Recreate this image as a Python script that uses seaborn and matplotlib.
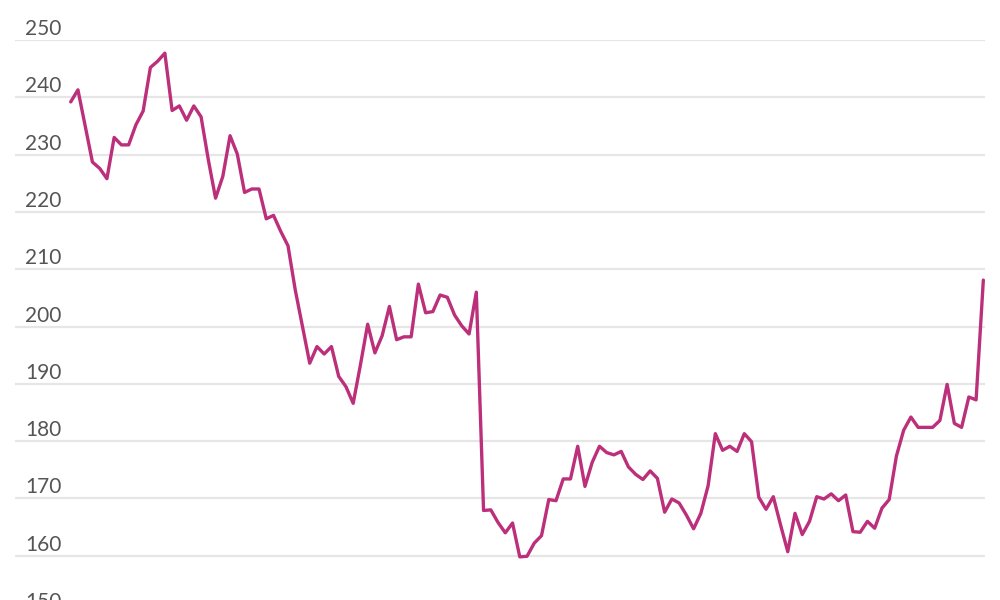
import matplotlib
matplotlib.use('Agg')
import matplotlib.pyplot as plt
import matplotlib.transforms as mtransforms
import pandas as pd
import seaborn as sns

# weekly values
values = [
    239.2, 241.3, 235.0, 228.7, 227.6, 225.8, 233.0, 231.7, 231.7, 235.2,
    237.6, 245.2, 246.3, 247.7, 237.7, 238.5, 236.0, 238.5, 236.6, 229.1,
    222.4, 226.2, 233.3, 230.1, 223.4, 224.0, 224.0, 218.8, 219.4, 216.6,
    214.1, 206.4, 200.0, 193.6, 196.5, 195.2, 196.5, 191.3, 189.5, 186.6,
    193.3, 200.4, 195.4, 198.4, 203.5, 197.7, 198.2, 198.2, 207.4, 202.4,
    202.6, 205.5, 205.1, 202.0, 200.1, 198.7, 206.0, 167.9, 168.0, 165.8,
    164.0, 165.7, 159.8, 159.9, 162.2, 163.5, 169.8, 169.6, 173.4, 173.4,
    179.1, 172.1, 176.3, 179.1, 178.0, 177.6, 178.2, 175.5, 174.2, 173.3,
    174.8, 173.5, 167.6, 169.9, 169.2, 167.1, 164.7, 167.4, 172.2, 181.3,
    178.4, 179.1, 178.2, 181.3, 179.9, 170.2, 168.1, 170.3, 165.4, 160.7,
    167.4, 163.7, 166.0, 170.3, 169.9, 170.8, 169.6, 170.6, 164.2, 164.1,
    166.0, 164.8, 168.3, 169.8, 177.4, 181.9, 184.2, 182.4, 182.4, 182.4,
    183.6, 189.9, 183.1, 182.4, 187.7, 187.2, 208.1,
]
y_ticks = [150, 160, 170, 180, 190, 200, 210, 220, 230, 240, 250]

df = pd.DataFrame({'week': range(len(values)), 'value': values})

sns.set_style('white')
plt.rcParams['font.family'] = ['Lato', 'DejaVu Sans']

fig = plt.figure(figsize=(10, 6), dpi=100)
# axes runs past the bottom edge, like the cropped original
ax = fig.add_axes([0.015, -0.0217, 0.97, 0.955])

for t in y_ticks:
    ax.axhline(t, color='#e6e6e6', linewidth=1.6, zorder=0)

sns.lineplot(data=df, x='week', y='value', color='#bb2f7b', linewidth=2.4, ax=ax)

ax.set_xlim(-7.69, 126.23)
ax.set_ylim(150, 250)

# tick labels sit above their gridline, at the left
trans = mtransforms.blended_transform_factory(ax.transAxes, ax.transData)
offset = mtransforms.offset_copy(trans, fig=fig, x=0, y=1, units='dots')
for t in y_ticks:
    ax.text(0.0103, t, str(t), transform=offset, ha='left', va='bottom',
            fontsize=15, color='#555555')

ax.set_xticks([])
ax.set_yticks([])
ax.set_xlabel('')
ax.set_ylabel('')
sns.despine(ax=ax, left=True, bottom=True)

fig.savefig('out.png', dpi=100)
